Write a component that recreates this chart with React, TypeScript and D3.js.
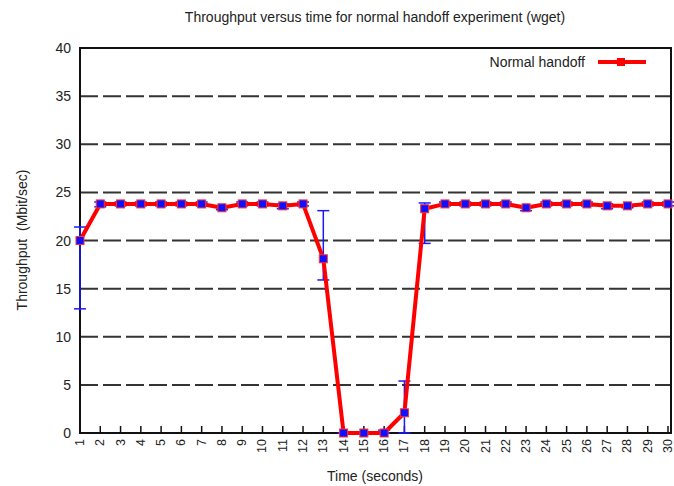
import React, { useEffect, useRef } from 'react';
import * as d3 from 'd3';

// seconds 1..30
const times = d3.range(1, 31);
const throughput = [
  20.0, 23.8, 23.8, 23.8, 23.8, 23.8, 23.8, 23.4, 23.8, 23.8,
  23.6, 23.8, 18.1, 0.0, 0.0, 0.0, 2.1, 23.3, 23.8, 23.8,
  23.8, 23.8, 23.4, 23.8, 23.8, 23.8, 23.6, 23.6, 23.8, 23.8,
];
const errLow = [
  12.9, 23.5, 23.6, 23.6, 23.6, 23.6, 23.6, 23.2, 23.6, 23.6,
  23.3, 23.6, 15.9, 0.0, 0.0, 0.0, 0.0, 19.7, 23.6, 23.6,
  23.6, 23.6, 23.1, 23.6, 23.6, 23.6, 23.3, 23.4, 23.6, 23.6,
];
const errHigh = [
  21.4, 24.0, 24.0, 24.0, 24.0, 24.0, 24.0, 23.6, 24.0, 24.0,
  23.8, 24.0, 23.1, 0.0, 0.0, 0.3, 5.4, 23.9, 24.0, 24.0,
  24.0, 24.0, 23.6, 24.0, 24.0, 24.0, 23.8, 23.7, 24.0, 24.0,
];
const yTicks = [0, 5, 10, 15, 20, 25, 30, 35, 40];

const W = 674;
const H = 486;

export default function App() {
  const svgRef = useRef<SVGSVGElement>(null);

  useEffect(() => {
    if (!svgRef.current) return;
    const svg = d3.select(svgRef.current);
    svg.selectAll('*').remove();

    const left = 80, right = 671, top = 48, bottom = 433;
    const x = d3.scaleLinear().domain([1, 30]).range([left, 668]);
    const y = d3.scaleLinear().domain([0, 40]).range([bottom, top]);
    const font = 'Liberation Sans, Arial, sans-serif';

    // grid
    svg.append('g')
      .selectAll('line')
      .data(yTicks.filter(t => t > 0 && t < 40))
      .enter()
      .append('line')
      .attr('x1', left)
      .attr('x2', right)
      .attr('y1', d => y(d))
      .attr('y2', d => y(d))
      .attr('stroke', '#333')
      .attr('stroke-width', 2)
      .attr('stroke-dasharray', '18,5');

    // frame
    svg.append('rect')
      .attr('x', left)
      .attr('y', top)
      .attr('width', right - left)
      .attr('height', bottom - top)
      .attr('fill', 'none')
      .attr('stroke', '#111')
      .attr('stroke-width', 2);

    // y tick labels
    svg.append('g')
      .selectAll('text')
      .data(yTicks)
      .enter()
      .append('text')
      .attr('x', 71)
      .attr('y', d => y(d) + 5)
      .attr('text-anchor', 'end')
      .attr('font-family', font)
      .attr('font-size', 14)
      .attr('fill', '#222')
      .text(d => d);

    // x ticks
    svg.append('g')
      .selectAll('line')
      .data(times)
      .enter()
      .append('line')
      .attr('x1', d => x(d))
      .attr('x2', d => x(d))
      .attr('y1', bottom)
      .attr('y2', bottom - 7)
      .attr('stroke', '#111')
      .attr('stroke-width', 1.5);

    svg.append('g')
      .selectAll('text')
      .data(times)
      .enter()
      .append('text')
      .attr('transform', d => `translate(${x(d) + 4},${bottom + 6}) rotate(-90)`)
      .attr('text-anchor', 'end')
      .attr('font-family', font)
      .attr('font-size', 12.5)
      .attr('fill', '#222')
      .text(d => d);

    // error bars
    const eb = svg.append('g').attr('stroke', '#1a1aff').attr('stroke-width', 1.5);
    times.forEach((t, i) => {
      const cx = x(t);
      eb.append('line').attr('x1', cx).attr('x2', cx).attr('y1', y(errLow[i])).attr('y2', y(errHigh[i]));
      [errLow[i], errHigh[i]].forEach(v => {
        eb.append('line').attr('x1', cx - 6).attr('x2', cx + 6).attr('y1', y(v)).attr('y2', y(v));
      });
    });

    // line
    const line = d3.line<number>()
      .x((_, i) => x(times[i]))
      .y(d => y(d));
    svg.append('path')
      .datum(throughput)
      .attr('d', line)
      .attr('fill', 'none')
      .attr('stroke', '#ff0000')
      .attr('stroke-width', 4)
      .attr('stroke-linejoin', 'round');

    // markers
    svg.append('g')
      .selectAll('rect')
      .data(throughput)
      .enter()
      .append('rect')
      .attr('x', (_, i) => x(times[i]) - 4)
      .attr('y', d => y(d) - 4)
      .attr('width', 8)
      .attr('height', 8)
      .attr('fill', '#1010ff')
      .attr('stroke', '#ff3030')
      .attr('stroke-width', 1);

    // legend
    svg.append('text')
      .attr('x', 585)
      .attr('y', 67)
      .attr('text-anchor', 'end')
      .attr('font-family', font)
      .attr('font-size', 14)
      .attr('fill', '#222')
      .text('Normal handoff');
    svg.append('line')
      .attr('x1', 598).attr('x2', 646).attr('y1', 62).attr('y2', 62)
      .attr('stroke', '#ff0000').attr('stroke-width', 4);
    svg.append('rect')
      .attr('x', 617).attr('y', 58).attr('width', 8).attr('height', 8)
      .attr('fill', '#ff0000');

    // titles
    svg.append('text')
      .attr('x', 375)
      .attr('y', 22)
      .attr('text-anchor', 'middle')
      .attr('font-family', font)
      .attr('font-size', 14)
      .attr('fill', '#222')
      .text('Throughput versus time for normal handoff experiment (wget)');
    svg.append('text')
      .attr('x', 375)
      .attr('y', 481)
      .attr('text-anchor', 'middle')
      .attr('font-family', font)
      .attr('font-size', 14)
      .attr('fill', '#222')
      .text('Time (seconds)');
    svg.append('text')
      .attr('transform', `translate(27,240) rotate(-90)`)
      .attr('text-anchor', 'middle')
      .attr('font-family', font)
      .attr('font-size', 14)
      .attr('fill', '#222')
      .attr('xml:space', 'preserve')
      .style('white-space', 'pre')
      .text('Throughput  (Mbit/sec)');
  }, []);

  return (
    <div style={{ position: 'absolute', left: 0, top: 0, width: W, height: H, background: '#fff' }}>
      <svg ref={svgRef} width={W} height={H} />
    </div>
  );
}
